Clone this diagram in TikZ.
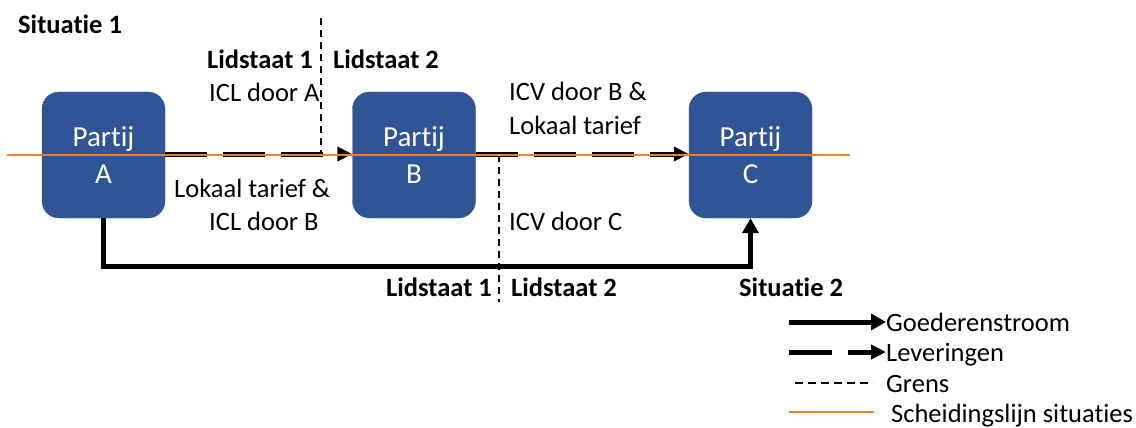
\documentclass[tikz,border=0pt]{standalone}
\usepackage{fontspec}
\setmainfont[Ligatures={NoCommon,NoRare,NoContextual}]{Carlito}
\usetikzlibrary{arrows.meta}
\definecolor{boxblue}{RGB}{47,85,151}
\definecolor{sepline}{RGB}{237,125,49}
\begin{document}
\begin{tikzpicture}[x=1pt,y=-1pt,
  partij/.style={draw=boxblue, fill=boxblue, rounded corners=17pt,
    minimum width=123pt, minimum height=126pt, inner sep=0pt,
    text=white, align=center, font=\fontsize{29}{37}\selectfont},
  lbl/.style={anchor=base west, inner sep=0pt, font=\fontsize{26.5}{32}\selectfont},
  blbl/.style={lbl, font=\fontsize{26.5}{32}\selectfont\bfseries},
  flow/.style={line width=5pt, -{Triangle[length=15pt,width=16pt]}},
  delivery/.style={line width=5pt, dash pattern=on 42pt off 16pt,
    -{Triangle[length=15pt,width=14pt]}},
  border/.style={line width=1.4pt, dash pattern=on 7pt off 5pt},
  separator/.style={line width=2.5pt, draw=sepline}]
\useasboundingbox (0,0) rectangle (1136,428);

% parties
\node[partij] (A) at (103.5,155) {};
\node[partij] (B) at (414,155) {};
\node[partij] (C) at (750.5,155) {};

% borders between member states
\coordinate (g1top) at (321,18);
\coordinate (g1bot) at (321,155);
\coordinate (g2top) at (499,155);
\coordinate (g2bot) at (499,302);
\draw[border] (g1top) -- (g1bot);
\draw[border] (g2top) -- (g2bot);

% deliveries (situation 1)
\draw[delivery] (A.east |- 0,154) -- (B.west |- 0,154);
\draw[delivery] (B.east |- 0,154) -- (C.west |- 0,154);

% flow of goods (situation 2)
\draw[flow] (A.south) -- ++(0,48) -| (C.south);

% line separating both situations
\coordinate (sepL) at (7,155);
\coordinate (sepR) at (850,155);
\draw[separator] (sepL) -- (sepR);

% party labels
\node[partij, draw=none, fill=none] (At) at (A) {Partij\\A};
\node[partij, draw=none, fill=none] (Bt) at (B) {Partij\\B};
\node[partij, draw=none, fill=none] (Ct) at (C) {Partij\\C};

% texts
\node[blbl] (s1) at (18,34) {Situatie 1};
\node[blbl] (ls1a) at (207,69) {Lidstaat 1};
\node[blbl] (ls2a) at (333,69) {Lidstaat 2};
\node[lbl] (icla) at (209,102) {ICL door A};
\node[lbl] (lt1) at (174,197) {Lokaal tarief \&};
\node[lbl] (iclb) at (209,230) {ICL door B};
\node[lbl] (icvb) at (509,101) {ICV door B \&};
\node[lbl] (lt2) at (509,134) {Lokaal tarief};
\node[lbl] (icvc) at (509,230) {ICV door C};
\node[blbl] (ls1b) at (386,296) {Lidstaat 1};
\node[blbl] (ls2b) at (511,296) {Lidstaat 2};
\node[blbl] (s2) at (739,296) {Situatie 2};

% legend
\node[lbl] (lg1) at (886,331) {Goederenstroom};
\node[lbl] (lg2) at (886,361) {Leveringen};
\node[lbl] (lg3) at (886,392) {Grens};
\node[lbl] (lg4) at (891,422) {Scheidingslijn situaties};
\coordinate (k1) at (789,322);
\coordinate (k2) at (789,352);
\coordinate (k3) at (795,383);
\coordinate (k4) at (789,412);
\draw[flow] (k1) -- (lg1.west |- k1);
\draw[delivery, dash pattern=on 43pt off 16pt] (k2) -- (lg2.west |- k2);
\draw[border, dash pattern=on 8pt off 5pt] (k3) -- (873,383);
\draw[separator] (k4) -- (874,412);
\end{tikzpicture}
\end{document}
